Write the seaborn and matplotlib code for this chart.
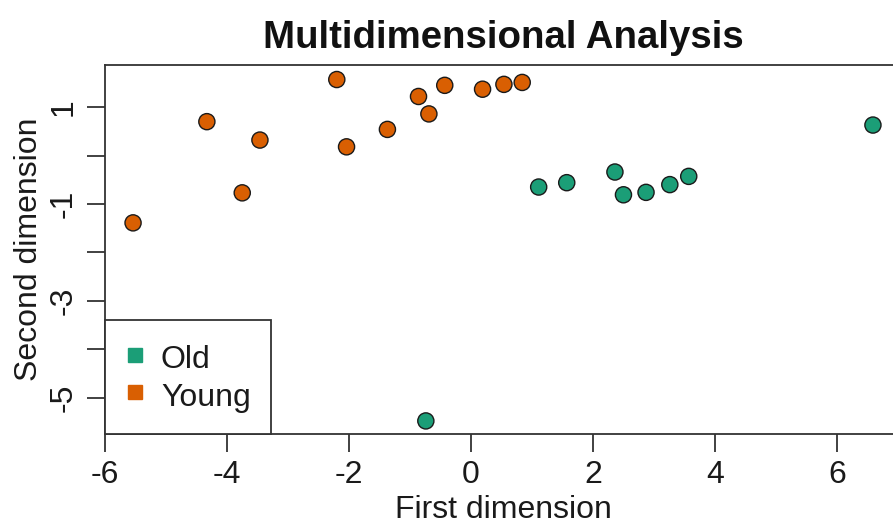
import matplotlib
matplotlib.use("Agg")
import matplotlib.pyplot as plt
from matplotlib.lines import Line2D
import seaborn as sns
import pandas as pd

# values
young_x = [-5.54, -4.33, -3.75, -3.46, -2.20, -2.04, -1.37, -0.86, -0.69, -0.43, 0.19, 0.54, 0.84]
young_y = [-1.39, 0.70, -0.77, 0.32, 1.57, 0.18, 0.54, 1.22, 0.86, 1.45, 1.37, 1.47, 1.51]
old_x = [1.11, 1.57, 2.36, 2.50, 2.87, 3.26, 3.57, 6.59, -0.74]
old_y = [-0.65, -0.56, -0.34, -0.81, -0.76, -0.60, -0.43, 0.63, -5.48]

groups = ["Old", "Young"]
colors = ["#1B9E77", "#D95F02"]

xticks = [-6, -4, -2, 0, 2, 4, 6]
yticks = [-5, -4, -3, -2, -1, 0, 1]
ytick_labels = ["-5", "", "-3", "", "-1", "", "1"]

df = pd.DataFrame({
    "x": old_x + young_x,
    "y": old_y + young_y,
    "group": ["Old"] * len(old_x) + ["Young"] * len(young_x),
})

sns.set_style("white")
plt.rcParams["font.family"] = ["Liberation Sans", "DejaVu Sans"]

fig = plt.figure(figsize=(8.93, 5.25), dpi=100)
# axes run past the right edge, the reference image is cropped there
ax = fig.add_axes([105 / 893, (525 - 434) / 525, (901 - 105) / 893, (434 - 65) / 525])

sns.scatterplot(data=df, x="x", y="y", hue="group", hue_order=groups,
                palette=dict(zip(groups, colors)), s=135, edgecolor="#1a1a1a",
                linewidth=1.0, legend=False, ax=ax, zorder=3)

ax.set_xlim(-6.0, 7.05)
ax.set_ylim(-5.75, 1.87)
ax.set_xticks(xticks)
ax.set_xticklabels([str(t) for t in xticks])
ax.set_yticks(yticks)
ax.set_yticklabels(ytick_labels, rotation=90, va="center")

for sp in ax.spines.values():
    sp.set_color("#333333")
    sp.set_linewidth(1.3)

ax.tick_params(axis="both", which="major", bottom=True, left=True, direction="out",
               length=13, width=1.3, color="#333333", labelsize=23,
               labelcolor="#1a1a1a", pad=6)

ax.set_xlabel("First dimension", fontsize=23, color="#1a1a1a", labelpad=3)
ax.set_ylabel("Second dimension", fontsize=23, color="#1a1a1a", labelpad=3)
ax.set_title("Multidimensional Analysis", fontsize=27.6, fontweight="bold",
             color="#111111", pad=12)

handles = [Line2D([0], [0], marker="s", linestyle="", markersize=10,
                  markerfacecolor=c, markeredgecolor=c) for c in colors]
leg = ax.legend(handles, groups, loc="lower left", borderaxespad=0, fancybox=False,
                framealpha=1, edgecolor="#333333", fontsize=23, handlelength=0.6,
                handleheight=1.25, handletextpad=0.5, borderpad=0.65,
                labelspacing=0.1)
leg.get_frame().set_linewidth(1.3)
for t in leg.get_texts():
    t.set_color("#1a1a1a")

fig.savefig("out.png", dpi=100)
